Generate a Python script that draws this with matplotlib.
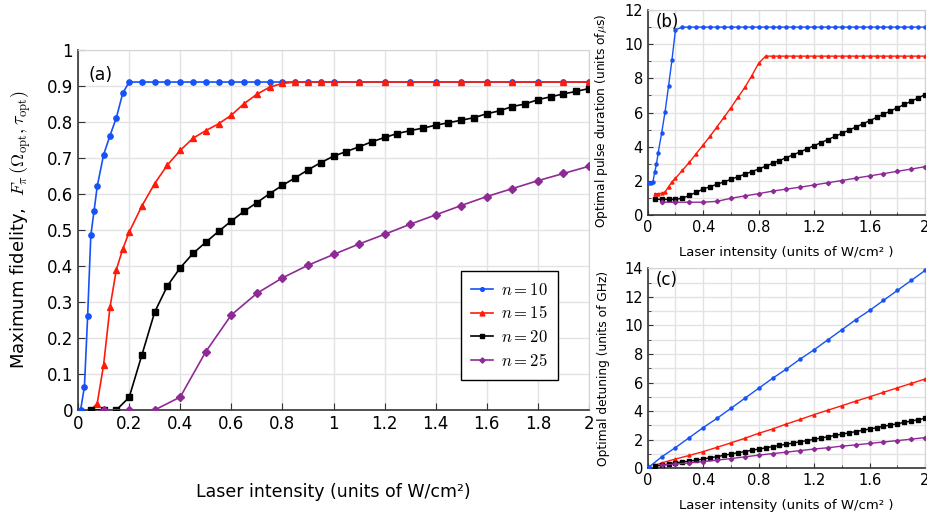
import matplotlib
matplotlib.use("Agg")
import matplotlib.pyplot as plt
from matplotlib.ticker import MultipleLocator, FuncFormatter

plt.rcParams['font.family'] = ['DejaVu Sans']
plt.rcParams['mathtext.fontset'] = 'cm'

# ---------------- panel (a): maximum fidelity ----------------
a_x10 = [0.01, 0.025, 0.0375, 0.05, 0.0625, 0.075, 0.1, 0.125, 0.15, 0.175, 0.2,
         0.25, 0.3, 0.35, 0.4, 0.45, 0.5, 0.55, 0.6, 0.65, 0.7, 0.75, 0.8, 0.85, 0.9, 0.95, 1.0,
         1.1, 1.2, 1.3, 1.4, 1.5, 1.6, 1.7, 1.8, 1.9, 2.0]
a_y10 = [0.0, 0.065, 0.26, 0.485, 0.552, 0.621, 0.709, 0.762, 0.812, 0.88, 0.911,
         0.911, 0.911, 0.911, 0.911, 0.911, 0.911, 0.911, 0.911, 0.911, 0.911, 0.911, 0.911, 0.911, 0.911, 0.911, 0.911,
         0.911, 0.911, 0.911, 0.911, 0.911, 0.911, 0.911, 0.911, 0.911, 0.911]

a_x15 = [0.05, 0.075, 0.1, 0.125, 0.15, 0.175, 0.2,
         0.25, 0.3, 0.35, 0.4, 0.45, 0.5, 0.55, 0.6, 0.65, 0.7, 0.75, 0.8, 0.85, 0.9, 0.95, 1.0,
         1.1, 1.2, 1.3, 1.4, 1.5, 1.6, 1.7, 1.8, 1.9, 2.0]
a_y15 = [0.0, 0.018, 0.125, 0.285, 0.39, 0.447, 0.494,
         0.567, 0.629, 0.681, 0.721, 0.755, 0.776, 0.795, 0.819, 0.851, 0.877, 0.897, 0.907, 0.911, 0.911, 0.911, 0.911,
         0.911, 0.911, 0.911, 0.911, 0.911, 0.911, 0.911, 0.911, 0.911, 0.911]

a_x20 = [0.05, 0.1, 0.15, 0.2, 0.25, 0.3, 0.35, 0.4, 0.45, 0.5, 0.55, 0.6, 0.65, 0.7, 0.75, 0.8,
         0.85, 0.9, 0.95, 1.0, 1.05, 1.1, 1.15, 1.2, 1.25, 1.3, 1.35, 1.4, 1.45, 1.5, 1.55, 1.6,
         1.65, 1.7, 1.75, 1.8, 1.85, 1.9, 1.95, 2.0]
a_y20 = [0.0, 0.0, 0.0, 0.035, 0.153, 0.272, 0.345, 0.395, 0.435, 0.466, 0.496, 0.525, 0.552, 0.576, 0.601, 0.624,
         0.645, 0.667, 0.687, 0.705, 0.718, 0.731, 0.745, 0.757, 0.768, 0.776, 0.783, 0.791, 0.798, 0.805, 0.812, 0.823,
         0.831, 0.843, 0.85, 0.862, 0.87, 0.878, 0.885, 0.893]

a_x25 = [0.1, 0.2, 0.3, 0.4, 0.5, 0.6, 0.7, 0.8, 0.9, 1.0, 1.1, 1.2, 1.3, 1.4, 1.5, 1.6, 1.7, 1.8, 1.9, 2.0]
a_y25 = [0.0, 0.0, 0.0, 0.036, 0.162, 0.264, 0.324, 0.367, 0.402, 0.432, 0.461, 0.488, 0.516, 0.542, 0.568,
         0.593, 0.615, 0.637, 0.657, 0.677]

# ---------------- panel (b): optimal pulse duration ----------------
b_x10 = [0.01, 0.025, 0.0375, 0.05, 0.0625, 0.075, 0.1, 0.125, 0.15, 0.175, 0.2,
         0.25, 0.3, 0.35, 0.4, 0.45, 0.5, 0.55, 0.6, 0.65, 0.7, 0.75, 0.8, 0.85, 0.9, 0.95, 1.0,
         1.05, 1.1, 1.15, 1.2, 1.25, 1.3, 1.35, 1.4, 1.45, 1.5, 1.55, 1.6, 1.65, 1.7, 1.75, 1.8,
         1.85, 1.9, 1.95, 2.0]
b_y10 = [1.9, 1.9, 1.95, 2.5, 2.96, 3.64, 4.78, 6.05, 7.55, 9.1, 10.85,
         11.0, 11.0, 11.0, 11.0, 11.0, 11.0, 11.0, 11.0, 11.0, 11.0, 11.0, 11.0, 11.0, 11.0, 11.0, 11.0,
         11.0, 11.0, 11.0, 11.0, 11.0, 11.0, 11.0, 11.0, 11.0, 11.0, 11.0, 11.0, 11.0, 11.0, 11.0, 11.0,
         11.0, 11.0, 11.0, 11.0]

b_x15 = [0.05, 0.075, 0.1, 0.125, 0.15, 0.175, 0.2,
         0.25, 0.3, 0.35, 0.4, 0.45, 0.5, 0.55, 0.6, 0.65, 0.7, 0.75, 0.8, 0.85, 0.9, 0.95, 1.0,
         1.05, 1.1, 1.15, 1.2, 1.25, 1.3, 1.35, 1.4, 1.45, 1.5, 1.55, 1.6, 1.65, 1.7, 1.75, 1.8,
         1.85, 1.9, 1.95, 2.0]
b_y15 = [1.25, 1.25, 1.27, 1.35, 1.65, 1.95, 2.15,
         2.62, 3.08, 3.6, 4.1, 4.62, 5.17, 5.72, 6.28, 6.88, 7.47, 8.15, 8.88, 9.3, 9.3, 9.3, 9.3,
         9.3, 9.3, 9.3, 9.3, 9.3, 9.3, 9.3, 9.3, 9.3, 9.3, 9.3, 9.3, 9.3, 9.3, 9.3, 9.3,
         9.3, 9.3, 9.3, 9.3]

b_x20 = a_x20
b_y20 = [0.92, 0.92, 0.92, 0.92, 0.98, 1.15, 1.33, 1.52, 1.66, 1.8, 1.94, 2.09, 2.24, 2.39, 2.54, 2.69,
         2.86, 3.02, 3.19, 3.36, 3.53, 3.7, 3.88, 4.06, 4.24, 4.42, 4.6, 4.78, 4.96, 5.15, 5.33, 5.52,
         5.71, 5.9, 6.09, 6.28, 6.47, 6.66, 6.85, 7.05]

b_x25 = a_x25
b_y25 = [0.75, 0.75, 0.75, 0.75, 0.8, 0.98, 1.12, 1.25, 1.4, 1.52, 1.63, 1.76, 1.89, 2.02, 2.16,
         2.29, 2.42, 2.56, 2.69, 2.83]

# ---------------- panel (c): optimal detuning ----------------
c_x10 = [0.01, 0.1, 0.2, 0.3, 0.4, 0.5, 0.6, 0.7, 0.8, 0.9, 1.0, 1.1, 1.2, 1.3, 1.4, 1.5, 1.6, 1.7, 1.8, 1.9, 2.0]
c_y10 = [0.1, 0.8, 1.45, 2.15, 2.85, 3.5, 4.2, 4.9, 5.6, 6.3, 6.95, 7.65, 8.3, 9.0, 9.7, 10.4, 11.05,
         11.75, 12.45, 13.15, 13.85]

c_x15 = [0.05, 0.1, 0.2, 0.3, 0.4, 0.5, 0.6, 0.7, 0.8, 0.9, 1.0, 1.1, 1.2, 1.3, 1.4, 1.5, 1.6, 1.7, 1.8, 1.9, 2.0]
c_y15 = [0.2, 0.38, 0.65, 0.9, 1.17, 1.47, 1.78, 2.1, 2.45, 2.75, 3.1, 3.42, 3.76, 4.07, 4.38, 4.7, 5.0,
         5.32, 5.63, 5.94, 6.25]

c_x20 = a_x20
c_y20 = [0.15, 0.22, 0.3, 0.38, 0.45, 0.5, 0.57, 0.65, 0.74, 0.82, 0.91, 1.0, 1.09, 1.17, 1.26, 1.35,
         1.43, 1.52, 1.6, 1.69, 1.77, 1.86, 1.94, 2.03, 2.12, 2.21, 2.3, 2.39, 2.48, 2.57, 2.66, 2.75,
         2.84, 2.94, 3.03, 3.12, 3.21, 3.31, 3.4, 3.5]

c_x25 = a_x25
c_y25 = [0.22, 0.3, 0.38, 0.47, 0.57, 0.68, 0.8, 0.92, 1.03, 1.13, 1.24, 1.35, 1.44, 1.55, 1.64,
         1.74, 1.84, 1.94, 2.04, 2.15]

labels = [r'$n=10$', r'$n=15$', r'$n=20$', r'$n=25$']
colors = ['#1652f5', '#ff1a0a', 'black', '#8e2a96']
markers = ['o', '^', 's', 'D']

grid_col = '#e3e3e3'
fmt = FuncFormatter(lambda v, p: '%g' % round(v, 3))


def style_axes(ax, size, ticklen):
    ax.grid(True, which='both', color=grid_col, linewidth=1.0, zorder=0)
    ax.set_axisbelow(True)
    for s in ['top', 'right']:
        ax.spines[s].set_color('#d4d4d4')
    for s in ['left', 'bottom']:
        ax.spines[s].set_color('#333333')
        ax.spines[s].set_linewidth(1.2)
    ax.tick_params(which='both', direction='in', labelsize=size, length=ticklen,
                   top=False, right=False, color='#333333')
    ax.tick_params(which='minor', length=ticklen * 0.6)
    ax.xaxis.set_major_formatter(fmt)
    ax.yaxis.set_major_formatter(fmt)


fig = plt.figure(figsize=(9.28, 5.17), dpi=100)

# panel (a)
ax = fig.add_axes([0.0841, 0.2070, 0.5506, 0.6963])
a_series = [(a_x10, a_y10), (a_x15, a_y15), (a_x20, a_y20), (a_x25, a_y25)]
a_ms = [3.8, 5.0, 4.6, 3.8]
for (xs, ys), c, m, lab, ms in zip(a_series, colors, markers, labels, a_ms):
    ax.plot(xs, ys, color=c, marker=m, markersize=ms, linewidth=1.2, label=lab, zorder=3)
ax.set_xlim(0, 2)
ax.set_ylim(0, 1)
ax.xaxis.set_major_locator(MultipleLocator(0.2))
ax.yaxis.set_major_locator(MultipleLocator(0.1))
style_axes(ax, 12, 5)
ax.set_xlabel('Laser intensity (units of W/cm²)', fontsize=12.5, labelpad=36)
ax.set_ylabel(r'Maximum fidelity,  $F_{\pi}\,(\Omega_{\rm opt},\tau_{\rm opt})$', fontsize=13, labelpad=10)
ax.text(0.02, 0.955, '(a)', transform=ax.transAxes, fontsize=12.5, va='top', ha='left')
leg = ax.legend(loc='lower left', bbox_to_anchor=(0.7495, 0.083), borderaxespad=0,
                fontsize=12, fancybox=False, framealpha=1, edgecolor='black',
                markerscale=0.7, handlelength=1.3, handletextpad=0.5,
                labelspacing=0.35, borderpad=0.6)
leg.get_frame().set_linewidth(1.0)

# panel (b)
axb = fig.add_axes([0.698, 0.5841, 0.2988, 0.3965])
b_series = [(b_x10, b_y10), (b_x15, b_y15), (b_x20, b_y20), (b_x25, b_y25)]
for (xs, ys), c, m in zip(b_series, colors, markers):
    axb.plot(xs, ys, color=c, marker=m, markersize=2.2, linewidth=1.0, zorder=3)
axb.set_xlim(0, 2)
axb.set_ylim(0, 12)
axb.xaxis.set_major_locator(MultipleLocator(0.4))
axb.xaxis.set_minor_locator(MultipleLocator(0.2))
axb.yaxis.set_major_locator(MultipleLocator(2))
axb.yaxis.set_minor_locator(MultipleLocator(1))
style_axes(axb, 10.5, 3.5)
axb.set_xlabel('Laser intensity (units of W/cm² )', fontsize=9.5, labelpad=8)
axb.set_ylabel(r'Optimal pulse duration (units of$\mu$s)', fontsize=8.8, labelpad=4)
axb.yaxis.set_label_coords(-0.135, 0.46)
axb.text(0.03, 0.985, '(b)', transform=axb.transAxes, fontsize=12, va='top', ha='left')

# panel (c)
axc = fig.add_axes([0.698, 0.0942, 0.2988, 0.3868])
c_series = [(c_x10, c_y10), (c_x15, c_y15), (c_x20, c_y20), (c_x25, c_y25)]
for (xs, ys), c, m in zip(c_series, colors, markers):
    axc.plot(xs, ys, color=c, marker=m, markersize=2.2, linewidth=1.0, zorder=3)
axc.set_xlim(0, 2)
axc.set_ylim(0, 14)
axc.xaxis.set_major_locator(MultipleLocator(0.4))
axc.xaxis.set_minor_locator(MultipleLocator(0.2))
axc.yaxis.set_major_locator(MultipleLocator(2))
axc.yaxis.set_minor_locator(MultipleLocator(1))
style_axes(axc, 10.5, 3.5)
axc.set_xlabel('Laser intensity (units of W/cm² )', fontsize=9.5, labelpad=8)
axc.set_ylabel('Optimal detuning (units of GHz)', fontsize=8.8, labelpad=4)
axc.yaxis.set_label_coords(-0.135, 0.5)
axc.text(0.03, 0.985, '(c)', transform=axc.transAxes, fontsize=12, va='top', ha='left')

fig.savefig('out.png', dpi=100)
